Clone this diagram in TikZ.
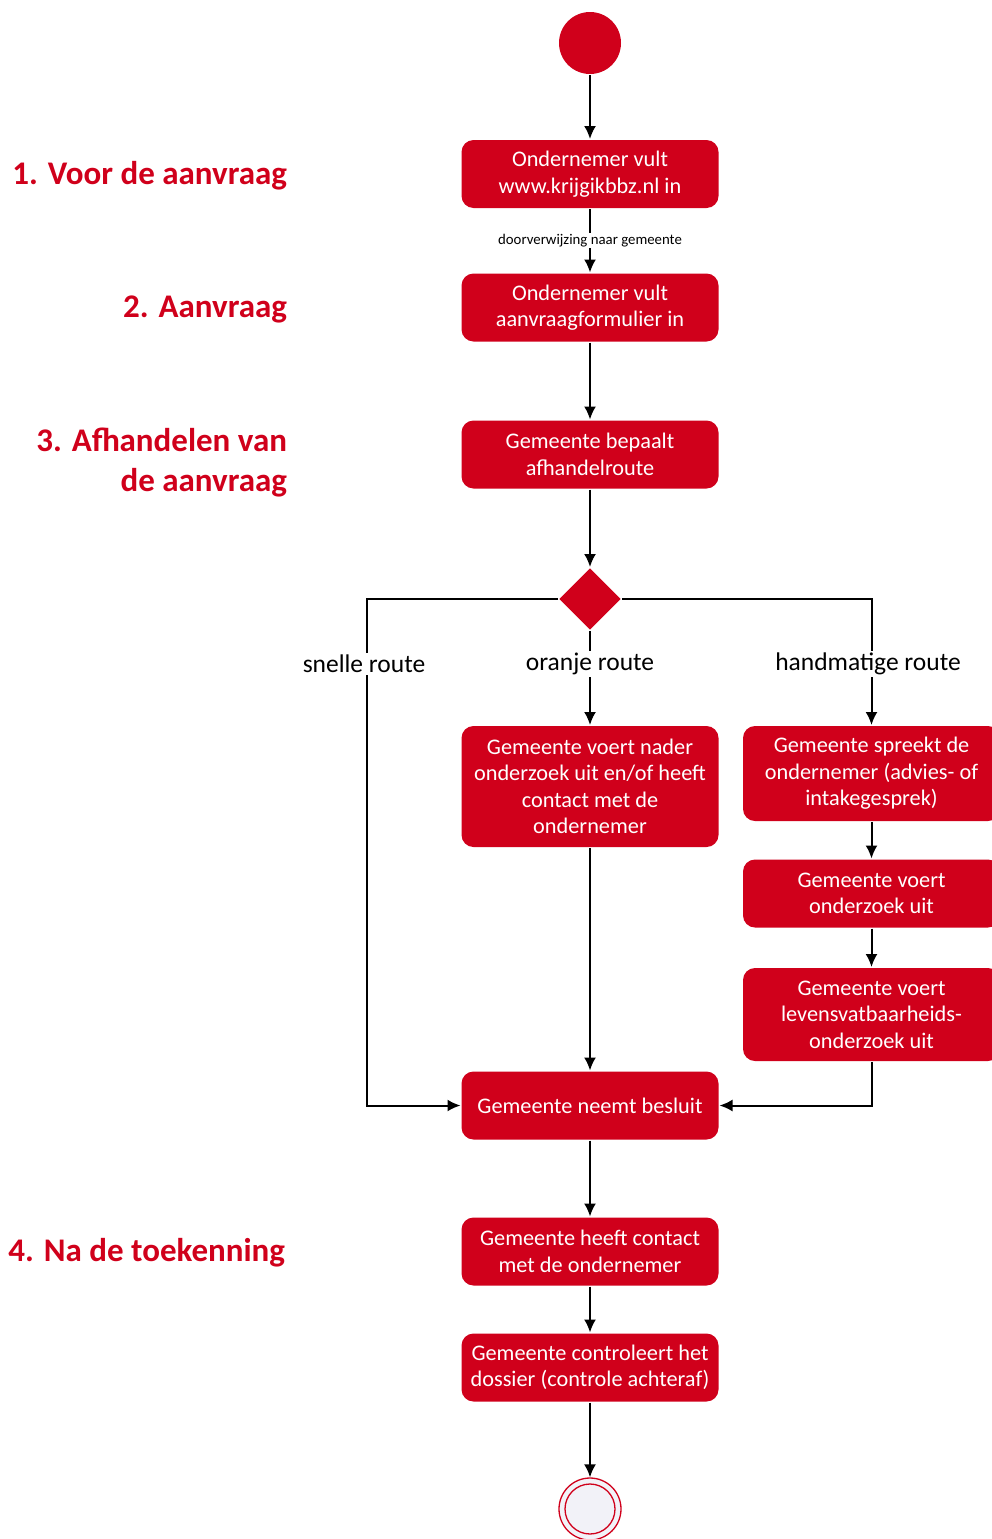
\documentclass[tikz,border=0pt]{standalone}
\usepackage{fontspec}
\setmainfont{Carlito}
\usetikzlibrary{shapes.geometric,arrows.meta}
\definecolor{bbzred}{RGB}{208,0,27}
\definecolor{eindfill}{RGB}{242,242,248}
\begin{document}
\begin{tikzpicture}[x=1pt,y=-1pt,line width=2pt,
    act/.style={fill=bbzred,text=white,rounded corners=12pt,minimum width=257pt,minimum height=68pt,inner sep=0pt,align=center,font=\fontsize{22.3}{26.5}\selectfont},
    phase/.style={anchor=east,inner sep=0pt,align=right,text=bbzred,font=\fontsize{33}{40}\selectfont\bfseries},
    routelabel/.style={fill=white,inner sep=2pt,font=\fontsize{25.5}{28}\selectfont},
    flow/.style={-{Latex[length=13pt,width=12pt]}}]
    \useasboundingbox (0,0) rectangle (992,1539);
    \clip (0,0) rectangle (992,1539);
    % fases links
    \node[phase] (fase1) at (288,176) {1. Voor de aanvraag};
    \node[phase] (fase2) at (288,309) {2. Aanvraag};
    \node[phase] (fase3) at (288,463) {3. Afhandelen van\\de aanvraag};
    \node[phase] (fase4) at (286,1253) {4. Na de toekenning};
    % activiteiten
    \node[circle,fill=bbzred,minimum size=62pt,inner sep=0pt] (start) at (590,43) {};
    \node[act] (vult) at (590,174) {Ondernemer vult\\www.krijgikbbz.nl in};
    \node[act] (formulier) at (590,307.5) {Ondernemer vult\\aanvraagformulier in};
    \node[act] (bepaalt) at (590,454.5) {Gemeente bepaalt\\afhandelroute};
    \node[diamond,fill=bbzred,minimum size=62pt,inner sep=0pt] (keuze) at (590,599) {};
    \node[act,minimum height=121pt] (nader) at (590,786.5) {Gemeente voert nader\\onderzoek uit en/of heeft\\contact met de\\ondernemer};
    \node[act,minimum height=95pt] (spreekt) at (871.5,773.5) {Gemeente spreekt de\\ondernemer (advies- of\\intakegesprek)};
    \node[act] (onderzoek) at (871.5,893.5) {Gemeente voert\\onderzoek uit};
    \node[act,minimum height=93pt] (levens) at (871.5,1014.5) {Gemeente voert\\levensvatbaarheids-\\onderzoek uit};
    \node[act] (besluit) at (590,1105.5) {Gemeente neemt besluit};
    \node[act] (contact) at (590,1251.5) {Gemeente heeft contact\\met de ondernemer};
    \node[act] (controle) at (590,1367.5) {Gemeente controleert het\\dossier (controle achteraf)};
    \node[circle,draw=bbzred,fill=eindfill,line width=1.3pt,minimum size=62pt,inner sep=0pt] (eind) at (590,1509) {};
    \node[circle,draw=bbzred,line width=1.3pt,minimum size=50pt,inner sep=0pt] (eindbinnen) at (eind) {};
    \coordinate (links) at (367,1105.5);
    % verbindingen
    \draw[flow] (start) -- (vult);
    \draw[flow] (vult) -- node[fill=white,inner sep=1pt,font=\fontsize{14.8}{16}\selectfont] {doorverwijzing naar gemeente} (formulier);
    \draw[flow] (formulier) -- (bepaalt);
    \draw[flow] (bepaalt) -- (keuze);
    \draw[flow] (keuze) -- node[routelabel,pos=0.35] (oranje) {oranje route} (nader);
    \draw[flow] (keuze.west) -| (links) -- (besluit.west);
    \draw[flow] (keuze.east) -| (spreekt.north);
    \node[routelabel] (snel) at (364,664) {snelle route};
    \node[routelabel] (handmatig) at (868,664) {handmatige route};
    \draw[flow] (nader) -- (besluit);
    \draw[flow] (spreekt) -- (onderzoek);
    \draw[flow] (onderzoek) -- (levens);
    \draw[flow] (levens.south) |- (besluit.east);
    \draw[flow] (besluit) -- (contact);
    \draw[flow] (contact) -- (controle);
    \draw[flow] (controle) -- (eind);
\end{tikzpicture}
\end{document}
